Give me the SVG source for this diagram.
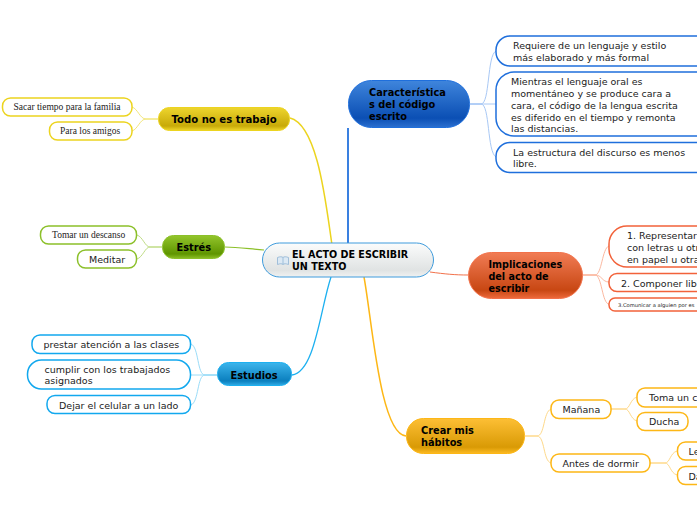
<svg xmlns="http://www.w3.org/2000/svg" width="697" height="520" viewBox="0 0 697 520">
<style>
text{font-family:"DejaVu Sans",Verdana,sans-serif;font-size:9.5px;fill:#222}
.b{font-weight:bold;font-size:9.8px;fill:#000}
.s{font-family:"Liberation Serif","Times New Roman",serif;font-size:9.5px}
.sub{fill:#fff;stroke-width:1.5}
.main{stroke-width:1}
.c{fill:none}
</style>
<defs>
<linearGradient id="gb" x1="0" y1="0" x2="0" y2="1"><stop offset="0" stop-color="#3f85dc"/><stop offset=".8" stop-color="#0b4fb4"/><stop offset="1" stop-color="#2c70d0"/></linearGradient>
<linearGradient id="gr" x1="0" y1="0" x2="0" y2="1"><stop offset="0" stop-color="#f17c55"/><stop offset=".82" stop-color="#c84713"/><stop offset="1" stop-color="#ee6a3c"/></linearGradient>
<linearGradient id="go" x1="0" y1="0" x2="0" y2="1"><stop offset="0" stop-color="#fdbf35"/><stop offset=".82" stop-color="#d99a05"/><stop offset="1" stop-color="#fdba22"/></linearGradient>
<linearGradient id="gy" x1="0" y1="0" x2="0" y2="1"><stop offset="0" stop-color="#eed52e"/><stop offset=".8" stop-color="#c8aa08"/><stop offset="1" stop-color="#eed52a"/></linearGradient>
<linearGradient id="gg" x1="0" y1="0" x2="0" y2="1"><stop offset="0" stop-color="#93c52c"/><stop offset=".8" stop-color="#5f9500"/><stop offset="1" stop-color="#8cbf26"/></linearGradient>
<linearGradient id="gc" x1="0" y1="0" x2="0" y2="1"><stop offset="0" stop-color="#3cb5ec"/><stop offset=".8" stop-color="#0b7fbe"/><stop offset="1" stop-color="#30ace6"/></linearGradient>
<linearGradient id="gw" x1="0" y1="0" x2="0" y2="1"><stop offset="0" stop-color="#fbfcfc"/><stop offset=".8" stop-color="#e0e3e3"/><stop offset="1" stop-color="#f0f2f2"/></linearGradient>
</defs>
<g id="connectors" class="c">
<path d="M348 243V128" stroke="#3a80e0" stroke-width="2"/>
<path d="M332 245C326 205 318 125 290 118" stroke="#ecd41f" stroke-width="1.5"/>
<path d="M264 250C250 249 238 247 225 247" stroke="#8cc02a" stroke-width="1.2"/>
<path d="M331 277C320 310 315 372 292 375" stroke="#1cb0f0" stroke-width="1.3"/>
<path d="M364 277C372 320 380 434 406 436" stroke="#fdb716" stroke-width="1.5"/>
<path d="M430 272C445 274 455 275 468 275" stroke="#f2714a" stroke-width="1"/>
<g stroke="#a8c8f5"><path d="M470 104H481C490 104 487 55 496 51"/><path d="M470 104H496"/><path d="M470 104H481C490 104 487 152 496 157"/></g>
<g stroke="#fbb8a0"><path d="M583 275H595C602 275 602 248 609 246"/><path d="M583 275H595C602 275 602 282 609 282"/><path d="M583 275H595C602 275 602 304 609 304"/></g>
<g stroke="#fed98a"><path d="M525 436H537C545 436 543 412 551 409"/><path d="M525 436H537C545 436 543 461 551 463"/><path d="M611 409H625C630 409 630 399 637 397"/><path d="M611 409H625C630 409 630 419 637 421"/><path d="M650 463H665C670 463 670 453 677 451"/><path d="M650 463H665C670 463 670 473 677 475"/></g>
<g stroke="#f2e67a"><path d="M158 119H146C140 119 138 109 132 107"/><path d="M158 119H146C140 119 138 129 132 131"/></g>
<g stroke="#bfdc85"><path d="M162 247H150C145 247 143 237 137 235"/><path d="M162 247H150C145 247 143 257 137 259"/></g>
<g stroke="#9adcf8"><path d="M217 375H205C197 375 199 347 191 344"/><path d="M217 375H191"/><path d="M217 375H205C197 375 199 402 191 405"/></g>
</g>
<g id="center"><rect x="262.500" y="243" width="171" height="34" rx="17" fill="url(#gw)" stroke="#3e9bdc" class="main"/><path d="M277.500 257.500C280 256.500 282 256.500 283 257.500C284 256.500 286 256.500 288.500 257.500V264.500C286 263.500 284 263.500 283 264.500C282 263.500 280 263.500 277.500 264.500Z" fill="#dce9f4" stroke="#8fb4d4" stroke-width=".8"/><path d="M283 257.500V264.500" stroke="#8fb4d4" stroke-width=".8"/><text class="b" x="292" y="257.500" style="font-size:9.6px">EL ACTO DE ESCRIBIR</text><text class="b" x="292" y="270" style="font-size:9.6px">UN TEXTO</text></g>
<g id="caracteristicas"><rect x="348.500" y="80.500" width="121" height="47" rx="23" fill="url(#gb)" stroke="#1f6fdc"/><text class="b" x="369" y="95.500">Característica</text><text class="b" x="369" y="107.500">s del código</text><text class="b" x="369" y="119.500">escrito</text></g>
<g id="c1"><rect class="sub" x="496" y="36" width="230" height="30" rx="14" stroke="#1f6fdc"/><text x="513" y="49">Requiere de un lenguaje y estilo</text><text x="513" y="61">más elaborado y más formal</text></g>
<g id="c2"><rect class="sub" x="496" y="72" width="230" height="64" rx="18" stroke="#1f6fdc"/><text x="511" y="85">Mientras el lenguaje oral es</text><text x="511" y="97">momentáneo y se produce cara a</text><text x="511" y="108.500">cara, el código de la lengua escrita</text><text x="511" y="120.500">es diferido en el tiempo y remonta</text><text x="511" y="131.500">las distancias.</text></g>
<g id="c3"><rect class="sub" x="496" y="142.500" width="230" height="30" rx="14" stroke="#1f6fdc"/><text x="513" y="156">La estructura del discurso es menos</text><text x="513" y="167">libre.</text></g>
<g id="implicaciones"><rect x="468.500" y="252.500" width="114" height="46" rx="23" fill="url(#gr)" stroke="#f2714a"/><text class="b" x="488.500" y="268" style="font-size:9.600px">Implicaciones</text><text class="b" x="488.500" y="279.500" style="font-size:9.600px">del acto de</text><text class="b" x="488.500" y="291.500" style="font-size:9.600px">escribir</text></g>
<g id="i1"><rect class="sub" x="609" y="226" width="130" height="41" rx="18" stroke="#f2623a"/><text x="627" y="239">1. Representar</text><text x="627" y="250.500">con letras u otr</text><text x="627" y="262.500">en papel u otra</text></g>
<g id="i2"><rect class="sub" x="609" y="273.500" width="130" height="18" rx="8" stroke="#f2623a"/><text x="621" y="286.500">2. Componer lib</text></g>
<g id="i3"><rect class="sub" x="609" y="298" width="130" height="13" rx="6" stroke="#f2623a"/><text x="618" y="307" style="font-size:5.200px">3.Comunicar a alguien por es</text></g>
<g id="crear"><rect x="406.500" y="418.500" width="118" height="35" rx="17" fill="url(#go)" stroke="#fdb716"/><text class="b" x="421" y="433.500">Crear mis</text><text class="b" x="421" y="446">hábitos</text></g>
<g id="manana"><rect class="sub" x="551" y="400" width="60" height="18.500" rx="8" stroke="#fdb716"/><text x="562.500" y="413">Mañana</text></g>
<g id="toma"><rect class="sub" x="637" y="388" width="90" height="19" rx="8" stroke="#fdb716"/><text x="649" y="401">Toma un c</text></g>
<g id="ducha"><rect class="sub" x="637" y="412.500" width="51" height="18" rx="8" stroke="#fdb716"/><text x="649" y="425">Ducha</text></g>
<g id="antes"><rect class="sub" x="551" y="454" width="99" height="18" rx="8" stroke="#fdb716"/><text x="562.500" y="467">Antes de dormir</text></g>
<g id="lee"><rect class="sub" x="677.500" y="442" width="50" height="18" rx="8" stroke="#fdb716"/><text x="688.500" y="455">Le</text></g>
<g id="da"><rect class="sub" x="677.500" y="466.500" width="50" height="18" rx="8" stroke="#fdb716"/><text x="688.500" y="479.500">Da</text></g>
<g id="todo"><rect x="158.500" y="107.500" width="131" height="23" rx="11" fill="url(#gy)" stroke="#ecd41f"/><text class="b" x="171.500" y="123" style="font-size:10.100px">Todo no es trabajo</text></g>
<g id="sacar"><rect class="sub" x="2.500" y="98" width="129.500" height="18" rx="8" stroke="#ecd41f"/><text class="s" x="13.500" y="110">Sacar tiempo para la familia</text></g>
<g id="amigos"><rect class="sub" x="49.500" y="122" width="82.500" height="18" rx="8" stroke="#ecd41f"/><text class="s" x="60" y="134">Para los amigos</text></g>
<g id="estres"><rect x="162.500" y="235.500" width="62" height="23" rx="11" fill="url(#gg)" stroke="#8cc02a"/><text class="b" x="176.500" y="251">Estrés</text></g>
<g id="tomar"><rect class="sub" x="40.500" y="226" width="96" height="18" rx="8" stroke="#8cc02a"/><text class="s" x="52" y="238">Tomar un descanso</text></g>
<g id="meditar"><rect class="sub" x="77.500" y="250" width="59" height="18" rx="8" stroke="#8cc02a"/><text x="89" y="263">Meditar</text></g>
<g id="estudios"><rect x="217.500" y="362.500" width="74" height="23" rx="11" fill="url(#gc)" stroke="#1cb0f0"/><text class="b" x="230.500" y="378.500">Estudios</text></g>
<g id="prestar"><rect class="sub" x="32" y="335" width="158.500" height="18.500" rx="8" stroke="#12a8ee"/><text x="43.500" y="348">prestar atención a las clases</text></g>
<g id="cumplir"><rect class="sub" x="27.500" y="360" width="163" height="29" rx="14" stroke="#12a8ee"/><text x="44.500" y="373">cumplir con los trabajados</text><text x="44.500" y="384">asignados</text></g>
<g id="dejar"><rect class="sub" x="47" y="395.500" width="143.500" height="18" rx="8" stroke="#12a8ee"/><text x="59" y="408.500">Dejar el celular a un lado</text></g>
</svg>
